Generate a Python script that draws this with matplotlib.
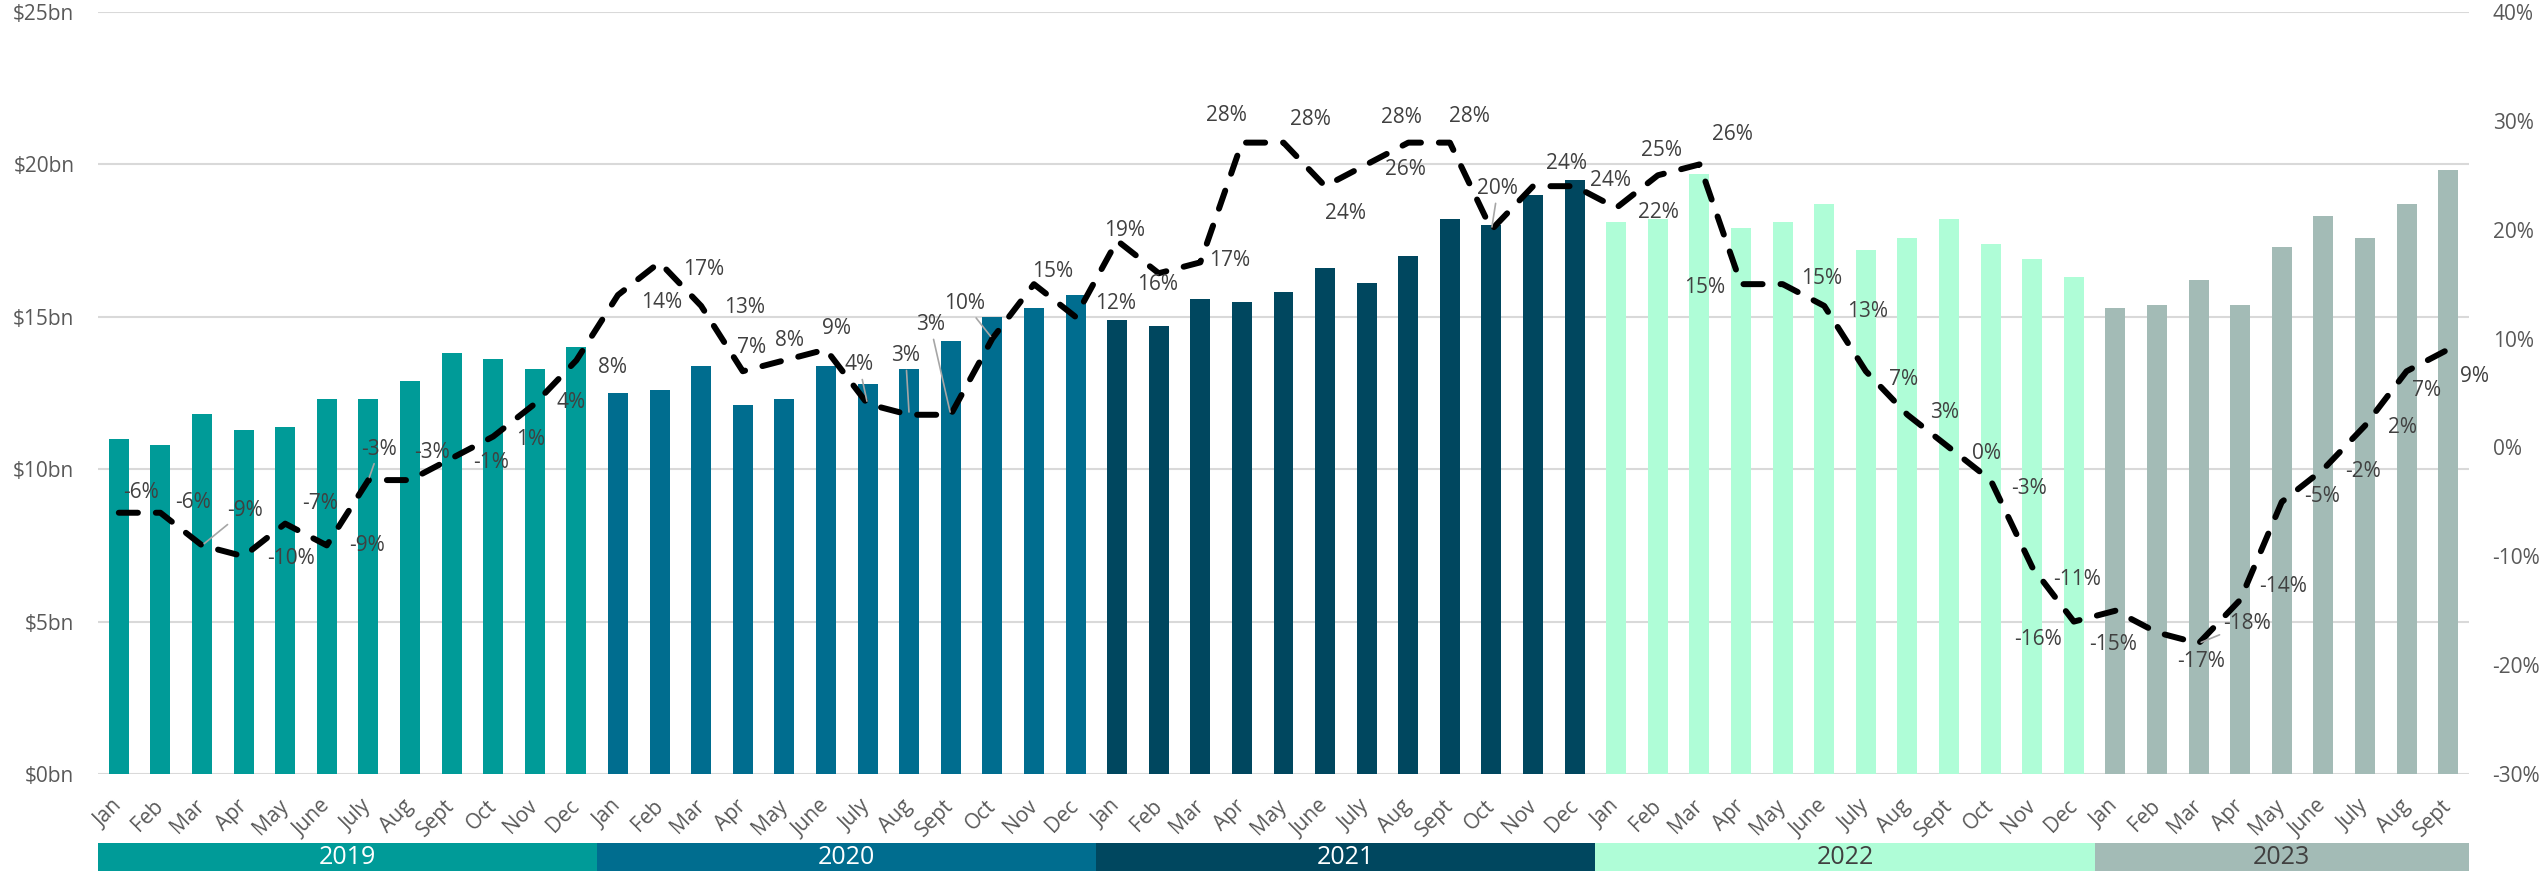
import matplotlib
matplotlib.use("Agg")
import matplotlib.pyplot as plt
import numpy as np

# ---- data -------------------------------------------------------------
years = ["2019", "2020", "2021", "2022", "2023"]
months_in_year = [12, 12, 12, 12, 9]
month_names = ["Jan", "Feb", "Mar", "Apr", "May", "June",
               "July", "Aug", "Sept", "Oct", "Nov", "Dec"]

# monthly value, $bn
value_2019 = [11.0, 10.8, 11.8, 11.3, 11.4, 12.3, 12.3, 12.9, 13.8, 13.6, 13.3, 14.0]
value_2020 = [12.5, 12.6, 13.4, 12.1, 12.3, 13.4, 12.8, 13.3, 14.2, 15.0, 15.3, 15.7]
value_2021 = [14.9, 14.7, 15.6, 15.5, 15.8, 16.6, 16.1, 17.0, 18.2, 18.0, 19.0, 19.5]
value_2022 = [18.1, 18.2, 19.7, 17.9, 18.1, 18.7, 17.2, 17.6, 18.2, 17.4, 16.9, 16.3]
value_2023 = [15.3, 15.4, 16.2, 15.4, 17.3, 18.3, 17.6, 18.7, 19.8]

# year-on-year change, %
yoy_2019 = [-6, -6, -9, -10, -7, -9, -3, -3, -1, 1, 4, 8]
yoy_2020 = [14, 17, 13, 7, 8, 9, 4, 3, 3, 10, 15, 12]
yoy_2021 = [19, 16, 17, 28, 28, 24, 26, 28, 28, 20, 24, 24]
yoy_2022 = [22, 25, 26, 15, 15, 13, 7, 3, 0, -3, -11, -16]
yoy_2023 = [-15, -17, -18, -14, -5, -2, 2, 7, 9]

year_colors = ["#009B98", "#006D8F", "#00475F", "#AFFDD7", "#A3BBB6"]
year_text_colors = ["white", "white", "white", "#404040", "#404040"]

# label placement (left edge offset, vertical offset; pixels, downwards positive)
label_offsets = [
    (4, -20), (15, -10), (25, -35), (24, 2), (17, -20), (22, 0),
    (-7, -31), (4, -28), (22, 4), (23, 3), (22, -1), (22, 7),
    (23, 7), (24, 7), (23, 2), (-6, -24), (-9, -20), (-4, -21),
    (-23, -39), (-18, -59), (-35, -90), (-48, -35), (-2, -13), (20, -13),
    (-13, -10), (-22, 11), (9, -2), (-36, -27), (7, -23), (0, 27),
    (18, 5), (-27, -25), (-1, -26), (-14, -41), (13, -23), (15, -6),
    (22, 5), (-17, -25), (13, -30), (-57, 3), (18, -6), (23, 6),
    (23, 8), (23, -2), (23, 6), (20, 8), (21, 12), (-60, 18),
    (-26, 34), (20, 29), (25, -20), (19, -13), (22, -5), (22, 2),
    (23, 2), (5, 19), (12, 27),
]
leader_lines = {2, 6, 18, 19, 20, 21, 33, 50}

# ---- assemble series --------------------------------------------------
values = value_2019 + value_2020 + value_2021 + value_2022 + value_2023
yoy = np.array(yoy_2019 + yoy_2020 + yoy_2021 + yoy_2022 + yoy_2023) / 100.0
labels = []
bar_colors = []
for yi, n in enumerate(months_in_year):
    labels += month_names[:n]
    bar_colors += [year_colors[yi]] * n
x = np.arange(len(values))

plt.rcParams["font.family"] = ["Open Sans", "DejaVu Sans"]
W, H = 2539, 875
fig = plt.figure(figsize=(W / 100, H / 100), dpi=100)

left, right, top, bottom = 98, 2469, 12, 774
ax = fig.add_axes([left / W, 1 - bottom / H, (right - left) / W, (bottom - top) / H])

ax.bar(x, values, width=0.48, color=bar_colors, zorder=2)
ax.set_xlim(-0.5, len(values) - 0.5)
ax.set_ylim(0, 25)
ax.set_yticks(np.arange(0, 26, 5))
ax.set_yticklabels([f"${v}bn" for v in range(0, 26, 5)])
ax.grid(axis="y", color="#D9D9D9", lw=1.5, zorder=0)
ax.set_axisbelow(True)
for s in ax.spines.values():
    s.set_visible(False)
ax.tick_params(axis="y", length=0, pad=17, labelsize=15, labelcolor="#595959")
ax.set_xticks(x)
ax.set_xticklabels(labels, rotation=45, ha="right", va="center",
                   rotation_mode="anchor")
ax.tick_params(axis="x", length=0, pad=21, labelsize=15, labelcolor="#595959")

# ---- year-on-year line ------------------------------------------------
ax2 = ax.twinx()
ax2.set_ylim(-0.30, 0.40)
ax2.set_yticks(np.arange(-0.30, 0.41, 0.10))
ax2.set_yticklabels([f"{int(round(v * 100))}%" for v in np.arange(-0.30, 0.41, 0.10)])
for s in ax2.spines.values():
    s.set_visible(False)
ax2.tick_params(axis="y", length=0, pad=17, labelsize=15, labelcolor="#595959")
line, = ax2.plot(x, yoy, color="black", lw=4.3, zorder=3,
                 dash_capstyle="round", solid_joinstyle="round")
line.set_dashes((3.2, 3.0))

for i, (xi, v) in enumerate(zip(x, yoy)):
    dx, dy = label_offsets[i]
    kw = {}
    if i in leader_lines:
        kw["arrowprops"] = dict(arrowstyle="-", color="#A6A6A6", lw=1.2,
                                shrinkA=1, shrinkB=2)
    ax2.annotate(f"{int(round(v * 100))}%", xy=(xi, v), xytext=(dx, -dy),
                 textcoords="offset pixels", ha="left", va="center",
                 fontsize=15, color="#404040", zorder=4, **kw)

# ---- year bands -------------------------------------------------------
axb = fig.add_axes([left / W, 1 - 871 / H, (right - left) / W, 28 / H])
axb.set_xlim(ax.get_xlim())
axb.set_ylim(0, 1)
axb.axis("off")
start = -0.5
for yi, n in enumerate(months_in_year):
    axb.bar(start + n / 2, 1, width=n, bottom=0, color=year_colors[yi])
    axb.text(start + n / 2, 0.5, years[yi], ha="center", va="center",
             fontsize=18, color=year_text_colors[yi])
    start += n

fig.savefig("out.png", dpi=100)
